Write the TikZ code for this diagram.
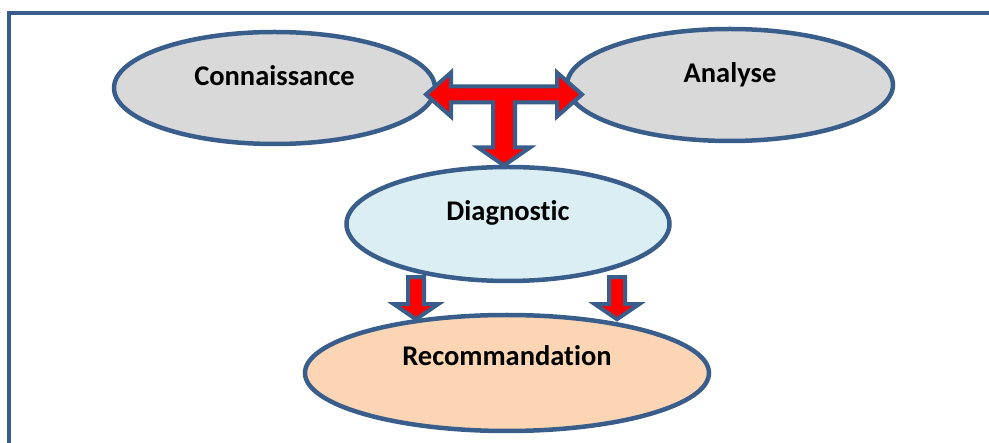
\documentclass[tikz,border=0pt]{standalone}
\usepackage{fontspec}
\setmainfont{Carlito}[Ligatures={NoCommon}]
\usetikzlibrary{calc,shapes.geometric}

\definecolor{edgeblue}{HTML}{3A5E8C}
\definecolor{bubblegray}{HTML}{D9D9D9}
\definecolor{bubbleblue}{HTML}{DBEEF4}
\definecolor{bubblepeach}{HTML}{FCD5B5}

\begin{document}
\begin{tikzpicture}[
  x=1pt, y=-1pt,
  frame/.style={draw=edgeblue, line width=4pt},
  bubble/.style={ellipse, draw=edgeblue, line width=4.5pt, inner sep=0pt},
  caption/.style={font=\bfseries\fontsize{28.5}{30}\selectfont,
    text height=18pt, text depth=0pt, inner sep=0pt},
  blockarrow/.style={draw=edgeblue, fill=red, line width=4pt, line join=miter}
]
\useasboundingbox (0,0) rectangle (989,443);

% --- Down block arrow helper: top point ---
\newcommand{\DownBlock}[1]{%
  \draw[blockarrow, shift={(#1)}] (-8,0) -- (8,0) -- (8,27) -- (22,27)
    -- (0,42) -- (-22,27) -- (-8,27) -- cycle;
}

% --- Frame ---
\draw[frame] (995,13.5) -- (9,13.5) -- (9,450);

% --- Ellipses ---
\node[bubble, fill=bubblegray, minimum width=321pt, minimum height=112pt,
  label={[caption, yshift=11pt]center:Connaissance}] (con) at (274.5,88) {};
\node[bubble, fill=bubblegray, minimum width=326pt, minimum height=112pt,
  label={[caption, yshift=11pt]center:Analyse}] (ana) at (730,85) {};
\node[bubble, fill=bubbleblue, minimum width=323pt, minimum height=114pt,
  label={[caption, yshift=12.5pt]center:Diagnostic}] (diag) at (508,224) {};
\node[bubble, fill=bubblepeach, minimum width=404pt, minimum height=116pt,
  label={[caption, yshift=16pt]center:Recommandation}] (reco) at (507,373) {};

% --- T arrow between the top ellipses, down to Diagnostic ---
\coordinate (hub) at ($(con.east)!0.5!(ana.west)+(3,8)$);
\draw[blockarrow, shift={(hub)}] (-78,0) -- (-53,-22) -- (-53,-8) -- (53,-8)
  -- (53,-22) -- (78,0) -- (53,22) -- (53,8) -- (11,8) -- (11,53) -- (26,53)
  -- (0,71) -- (-26,53) -- (-11,53) -- (-11,8) -- (-53,8) -- (-53,22) -- cycle;

% --- Two arrows from Diagnostic to Recommandation ---
\coordinate (dl) at ($(diag.south)+(-92,-6)$);
\coordinate (dr) at ($(diag.south)+(109,-6)$);
\DownBlock{dl}
\DownBlock{dr}

\end{tikzpicture}
\end{document}
